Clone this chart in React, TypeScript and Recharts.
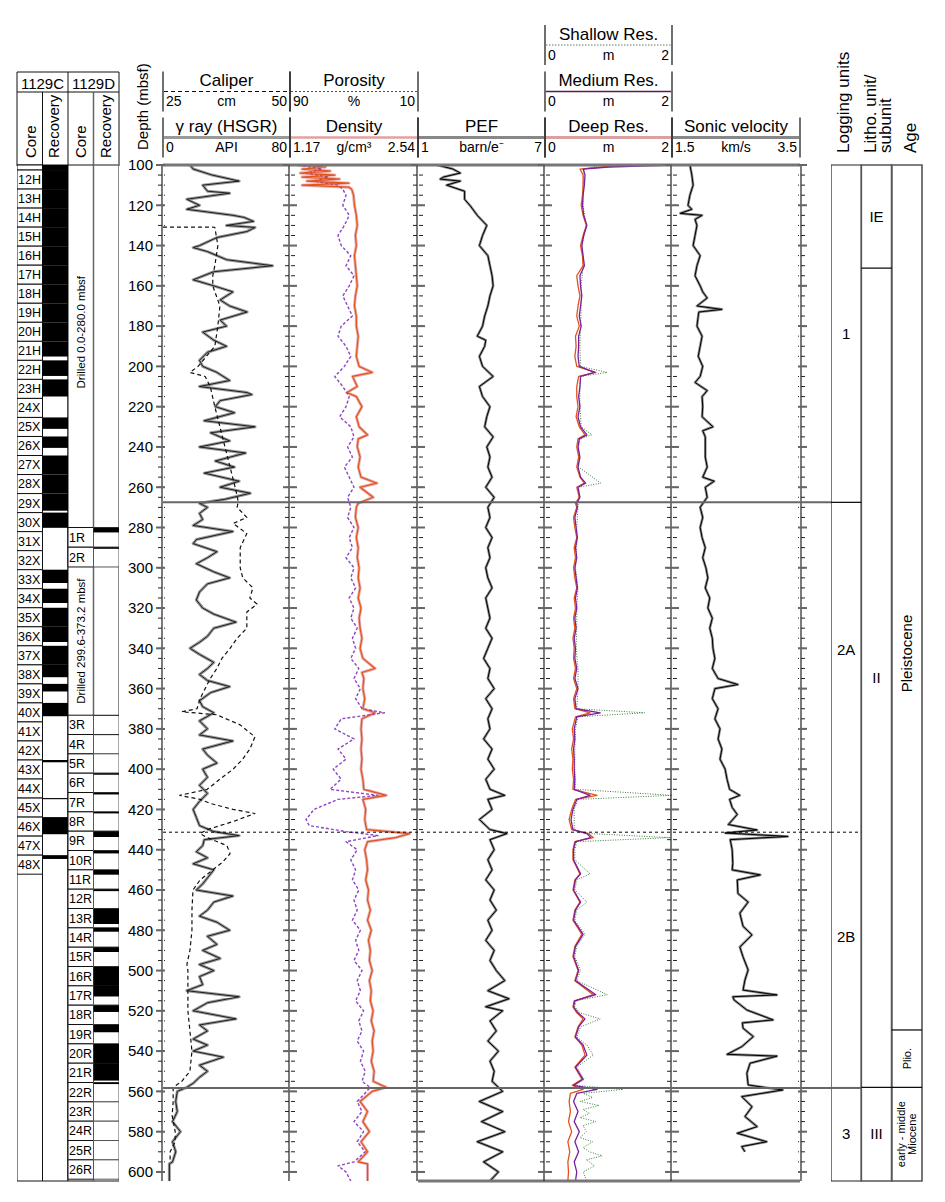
import React from 'react';
import { LineChart, Line, XAxis, YAxis, ComposedChart, ReferenceArea, ReferenceLine } from 'recharts';

const TOP_DEPTH = 100;
const BASE_DEPTH = 604.5;
const PLOT_TOP = 165;
const PLOT_H = 1016;
const VPAD = 10;
const FONT = '"Liberation Sans", Arial, Helvetica, sans-serif';
const Y_DOMAIN: [number, number] = [TOP_DEPTH, BASE_DEPTH];

const depthLabels = [100, 120, 140, 160, 180, 200, 220, 240, 260, 280, 300, 320, 340, 360, 380, 400, 420, 440, 460, 480, 500, 520, 540, 560, 580, 600];
const depthMinor = Array.from({ length: 101 }, (_, i) => 100 + i * 5);

// [depth mbsf, value]
const gammaRay: [number, number][] = [
  [100, 17], [102, 19], [105, 31], [108, 48], [110, 25], [113, 28], [114, 42], [117, 15], [120, 23], [122, 15], [125, 44], [126, 51], [128, 57], [130, 40], [131, 58], [133, 53], [136, 34], [140, 23], [141, 19], [143, 28], [147, 40], [150, 69], [153, 32], [157, 19], [160, 32], [163, 44], [167, 36], [170, 42], [173, 53], [177, 36], [180, 40], [183, 25], [187, 32], [190, 40], [193, 28], [197, 23], [200, 25], [203, 34], [207, 42], [210, 23], [213, 53], [214, 56], [217, 36], [220, 33], [223, 45], [227, 26], [230, 58], [233, 30], [237, 42], [240, 23], [243, 52], [247, 33], [250, 45], [253, 26], [257, 48], [260, 36], [263, 55], [266, 39], [268, 23],
  [270, 28], [273, 23], [276, 25], [279, 19], [282, 44], [286, 21], [288, 19], [292, 34], [295, 28], [298, 21], [302, 32], [305, 42], [308, 28], [312, 23], [316, 21], [320, 25], [323, 32], [327, 46], [330, 32], [334, 28], [337, 23], [340, 17], [343, 23], [347, 32], [350, 28], [353, 23], [356, 28], [359, 42], [362, 30], [366, 23], [369, 25], [372, 32], [376, 23], [380, 28], [383, 23], [386, 44], [390, 25], [393, 28], [397, 34], [400, 25], [404, 28], [408, 23], [412, 28], [416, 23], [420, 19], [424, 21], [428, 23], [431, 32], [433, 48], [435, 26], [438, 25], [441, 21], [444, 28], [447, 19], [450, 32], [454, 28], [457, 25], [460, 21], [463, 44], [466, 32], [470, 28], [473, 23], [476, 34], [480, 42], [483, 28], [487, 34], [490, 25], [494, 36], [497, 23], [500, 32], [503, 23], [507, 25], [510, 15], [513, 48], [516, 28], [520, 19], [524, 46], [527, 23], [530, 28], [534, 19], [537, 28], [540, 19], [543, 38], [547, 23], [550, 28], [553, 23], [556, 19], [558, 15], [560, 9], [565, 8], [570, 9], [575, 6], [580, 11], [585, 6], [590, 8], [595, 6], [596, 4], [604.5, 4],
];

const caliper: [number, number][] = [
  [130.8, 25], [130.9, 35.2], [140, 35.8], [150, 35.2], [155, 34.8], [160, 34.8], [170, 36.2], [180, 35.8], [190, 35.2], [200, 31.9], [203, 30.3], [205, 33.3], [210, 34.3], [220, 35.2], [230, 36.2], [240, 37.2], [250, 38.2], [260, 39.2], [267, 39.8], [270, 39.6], [275, 41.5], [278, 38.8], [283, 41.5], [290, 40.2], [300, 40.2], [305, 40.7], [310, 42.7], [315, 42.1], [318, 43.5], [322, 41.5], [330, 41.5], [335, 39.6], [340, 38.2], [345, 36.6], [350, 35.6], [355, 34.3], [360, 33.3], [365, 32.3], [370, 31.7], [371.5, 28.7], [373, 35.6], [378, 40.2], [384, 43.1], [390, 42.1], [395, 40.7], [400, 38.8], [405, 36.2], [410, 33.7], [413, 28.3], [415, 32.3], [417, 34.3], [420, 38.8], [422, 43.1], [426, 38.8], [430, 33.7], [432, 32.3], [434, 33.7], [438, 37.6], [442, 38.2], [446, 36.8], [450, 34.8], [455, 32.3], [460, 30.9], [470, 30.7], [480, 30.7], [490, 30.3], [497, 29.7], [500, 29.9], [510, 29.9], [520, 29.9], [530, 30.3], [540, 30.7], [550, 30.3], [555, 28.7], [558, 27.0], [565, 27.0], [572, 26.8], [580, 27.4], [585, 27.4], [590, 26.4], [595, 26.4],
];

const density: [number, number][] = [
  [100, 1.25], [101, 1.55], [102, 1.3], [103, 1.6], [104, 1.28], [105, 1.65], [106, 1.3], [107, 1.7], [108, 1.35], [109, 1.8], [110, 1.3], [111, 1.8], [112, 1.83], [115, 1.85], [120, 1.86], [125, 1.88], [130, 1.89], [135, 1.87], [140, 1.88], [145, 1.86], [150, 1.87], [155, 1.88], [160, 1.89], [165, 1.87], [170, 1.86], [175, 1.88], [180, 1.88], [185, 1.9], [190, 1.89], [195, 1.88], [200, 1.91], [203, 2.05], [205, 1.84], [210, 1.89], [213, 1.78], [215, 1.88], [220, 1.94], [225, 1.88], [230, 1.91], [234, 2.0], [236, 1.9], [240, 1.89], [245, 1.92], [250, 1.9], [255, 1.93], [258, 2.1], [260, 1.92], [265, 2.06], [268, 1.9],
  [270, 1.88], [275, 1.87], [280, 1.9], [285, 1.88], [290, 1.9], [295, 1.89], [300, 1.91], [305, 1.9], [310, 1.92], [315, 1.9], [320, 1.93], [325, 1.91], [330, 1.92], [335, 1.94], [340, 1.92], [345, 1.95], [350, 2.08], [352, 1.94], [355, 1.96], [360, 1.95], [365, 1.97], [370, 1.95], [372, 2.08], [375, 1.94], [380, 1.93], [385, 1.94], [390, 1.93], [395, 1.94], [400, 1.93], [405, 1.95], [410, 1.96], [413, 2.2], [415, 1.95], [420, 1.98], [425, 1.97], [430, 1.99], [432, 2.45], [434, 2.3], [436, 2.0], [440, 1.97], [445, 1.99], [450, 2.0], [455, 1.98], [460, 2.01], [465, 2.0], [470, 2.03], [475, 2.0], [480, 2.04], [485, 2.01], [490, 2.03], [495, 2.02], [500, 2.05], [505, 2.02], [510, 2.04], [515, 2.03], [520, 2.06], [525, 2.04], [530, 2.07], [535, 2.05], [540, 2.06], [545, 2.04], [550, 2.07], [555, 2.06], [558, 2.2], [560, 2.05], [565, 1.92], [570, 2.0], [575, 1.95], [580, 2.02], [585, 1.93], [590, 2.0], [595, 1.9], [596, 2.0], [604.5, 2.0],
];

const porosity: [number, number][] = [
  [100, 85], [102, 70], [104, 80], [106, 66], [108, 75], [110, 60], [112, 57], [115, 55], [120, 57], [125, 53], [130, 56], [135, 60], [140, 58], [145, 52], [150, 55], [155, 50], [160, 53], [165, 57], [170, 54], [175, 51], [180, 58], [185, 60], [190, 55], [195, 52], [200, 56], [205, 62], [210, 57], [215, 53], [220, 55], [225, 59], [230, 52], [235, 50], [240, 54], [245, 51], [250, 56], [255, 53], [260, 50], [265, 54],
  [270, 52], [275, 54], [280, 50], [285, 53], [290, 51], [295, 55], [300, 50], [305, 52], [310, 49], [315, 53], [320, 50], [325, 52], [330, 48], [335, 51], [340, 49], [345, 52], [350, 47], [355, 50], [360, 46], [365, 49], [370, 45], [372, 31], [375, 58], [380, 62], [385, 50], [390, 60], [395, 55], [400, 63], [405, 58], [410, 65], [413, 35], [415, 60], [420, 75], [425, 80], [428, 78], [431, 55], [433, 35], [436, 55], [440, 48], [445, 52], [450, 49], [455, 51], [460, 47], [465, 50], [470, 48], [475, 51], [480, 46], [485, 49], [490, 47], [495, 50], [500, 45], [505, 48], [510, 46], [515, 49], [520, 44], [525, 47], [530, 45], [535, 48], [540, 44], [545, 46], [550, 43], [555, 45], [558, 40], [560, 42], [565, 48], [570, 45], [575, 50], [580, 44], [585, 48], [590, 43], [595, 50], [597, 60], [600, 55], [604.5, 52],
];

const pefLog: [number, number][] = [
  [100, 1.9], [102, 2.65], [104, 3.0], [106, 2.2], [107, 2.05], [108, 3.0], [110, 2.35], [113, 3.2], [117, 3.2], [120, 3.45], [125, 3.8], [130, 4.25], [135, 4.05], [140, 3.9], [145, 4.3], [150, 4.4], [155, 4.5], [160, 4.55], [165, 4.4], [170, 4.3], [175, 4.15], [180, 4.05], [185, 3.8], [187, 4.2], [190, 4.15], [195, 3.9], [200, 4.05], [205, 4.55], [210, 3.9], [215, 4.05], [220, 4.4], [225, 4.25], [230, 4.15], [235, 4.55], [240, 4.25], [245, 4.4], [250, 4.3], [255, 4.5], [260, 4.2], [265, 4.6],
  [270, 4.3], [275, 4.4], [280, 4.2], [285, 4.5], [290, 4.3], [295, 4.4], [300, 4.2], [305, 4.3], [310, 4.5], [315, 4.2], [320, 4.3], [325, 4.4], [330, 4.2], [335, 4.5], [340, 4.3], [345, 4.1], [350, 4.4], [355, 4.3], [360, 4.6], [365, 4.2], [370, 4.5], [375, 4.3], [380, 4.4], [385, 4.1], [390, 4.5], [395, 4.3], [400, 4.6], [405, 4.2], [410, 4.4], [413, 5.1], [415, 4.3], [420, 4.5], [425, 3.9], [430, 4.4], [432, 5.2], [435, 4.4], [440, 4.6], [445, 4.3], [450, 4.5], [455, 4.2], [460, 4.6], [465, 4.4], [470, 4.7], [475, 4.3], [480, 4.5], [485, 4.2], [490, 4.6], [495, 4.4], [500, 4.7], [505, 5.1], [510, 4.3], [514, 5.3], [518, 4.2], [520, 5.0], [525, 4.4], [530, 4.7], [535, 4.3], [540, 4.8], [545, 4.4], [550, 4.6], [555, 4.5], [560, 5.0], [565, 3.9], [570, 5.0], [575, 4.0], [580, 5.1], [585, 3.8], [590, 5.0], [595, 4.1], [600, 4.8], [604.5, 4.4],
];

const resDeep: [number, number][] = [
  [100, 1.3], [101, 0.9], [102, 0.55], [105, 0.6], [110, 0.6], [115, 0.59], [120, 0.57], [125, 0.6], [130, 0.65], [135, 0.6], [140, 0.56], [145, 0.59], [150, 0.6], [155, 0.5], [160, 0.52], [165, 0.55], [170, 0.52], [175, 0.5], [180, 0.54], [185, 0.48], [190, 0.49], [195, 0.47], [200, 0.5], [203, 0.8], [205, 0.53], [210, 0.5], [215, 0.5], [220, 0.52], [225, 0.49], [230, 0.54], [234, 0.63], [236, 0.52], [240, 0.5], [245, 0.53], [250, 0.5], [255, 0.55], [258, 0.62], [260, 0.5], [265, 0.54], [268, 0.48],
  [270, 0.5], [275, 0.45], [280, 0.47], [285, 0.5], [290, 0.46], [295, 0.48], [300, 0.45], [305, 0.47], [310, 0.5], [315, 0.46], [320, 0.48], [325, 0.45], [330, 0.47], [335, 0.44], [340, 0.46], [345, 0.45], [350, 0.48], [355, 0.45], [360, 0.5], [365, 0.45], [370, 0.47], [372, 0.71], [374, 0.48], [380, 0.43], [385, 0.45], [390, 0.42], [395, 0.44], [400, 0.43], [405, 0.45], [410, 0.44], [413, 0.82], [415, 0.48], [420, 0.42], [425, 0.38], [430, 0.42], [432, 0.68], [434, 0.76], [436, 0.47], [440, 0.44], [445, 0.44], [452, 0.55], [455, 0.47], [460, 0.44], [466, 0.55], [470, 0.47], [475, 0.44], [482, 0.58], [488, 0.47], [493, 0.44], [500, 0.52], [505, 0.47], [512, 0.76], [515, 0.46], [518, 0.44], [521, 0.5], [524, 0.6], [528, 0.52], [533, 0.47], [537, 0.58], [542, 0.63], [548, 0.47], [554, 0.58], [557, 0.43], [559, 0.6], [561, 0.4], [565, 0.38], [570, 0.4], [575, 0.37], [580, 0.42], [585, 0.36], [590, 0.39], [595, 0.36], [600, 0.37], [604.5, 0.36],
];

const resMedium: [number, number][] = [
  [100, 2.0], [101, 1.0], [102, 0.6], [105, 0.63], [110, 0.62], [115, 0.6], [120, 0.59], [125, 0.61], [130, 0.66], [135, 0.61], [140, 0.58], [145, 0.6], [150, 0.62], [155, 0.55], [160, 0.56], [165, 0.58], [170, 0.56], [175, 0.54], [180, 0.57], [185, 0.53], [190, 0.53], [195, 0.52], [200, 0.54], [203, 0.78], [205, 0.56], [210, 0.55], [215, 0.53], [220, 0.55], [225, 0.52], [230, 0.56], [234, 0.66], [236, 0.54], [240, 0.52], [245, 0.55], [250, 0.52], [255, 0.56], [258, 0.64], [260, 0.52], [265, 0.55], [268, 0.5],
  [270, 0.51], [275, 0.47], [280, 0.49], [285, 0.51], [290, 0.48], [295, 0.5], [300, 0.47], [305, 0.49], [310, 0.51], [315, 0.48], [320, 0.5], [325, 0.47], [330, 0.49], [335, 0.46], [340, 0.48], [345, 0.47], [350, 0.5], [355, 0.47], [360, 0.52], [365, 0.47], [370, 0.49], [372, 0.87], [374, 0.5], [380, 0.46], [385, 0.47], [390, 0.45], [395, 0.46], [400, 0.46], [405, 0.47], [410, 0.46], [413, 0.71], [415, 0.5], [420, 0.44], [425, 0.41], [430, 0.44], [432, 0.66], [434, 0.72], [436, 0.48], [440, 0.45], [445, 0.45], [452, 0.56], [455, 0.48], [460, 0.45], [466, 0.56], [470, 0.48], [475, 0.45], [482, 0.6], [488, 0.48], [493, 0.45], [500, 0.53], [505, 0.48], [512, 0.8], [515, 0.47], [518, 0.45], [521, 0.52], [524, 0.63], [528, 0.53], [533, 0.48], [537, 0.6], [542, 0.66], [548, 0.48], [554, 0.6], [557, 0.45], [559, 0.82], [561, 0.5], [565, 0.45], [570, 0.52], [575, 0.46], [580, 0.54], [585, 0.47], [590, 0.53], [595, 0.46], [600, 0.5], [604.5, 0.48],
];

const resShallow: [number, number][] = [
  [100, 0.9], [102, 0.62], [110, 0.6], [120, 0.6], [130, 0.65], [140, 0.58], [150, 0.6], [160, 0.57], [170, 0.57], [180, 0.56], [190, 0.55], [200, 0.56], [203, 0.98], [205, 0.56], [210, 0.55], [220, 0.55], [230, 0.57], [234, 0.74], [236, 0.55], [240, 0.53], [250, 0.53], [258, 0.88], [260, 0.53], [270, 0.52], [280, 0.5], [290, 0.5], [300, 0.48], [310, 0.52], [320, 0.5], [330, 0.5], [340, 0.49], [350, 0.52], [360, 0.52], [370, 0.5], [372, 1.57], [374, 0.52], [380, 0.48], [390, 0.47], [400, 0.47], [410, 0.48], [413, 2.0], [415, 0.52], [420, 0.46], [430, 0.46], [432, 0.7], [434, 1.97], [436, 0.5], [440, 0.47], [445, 0.47], [452, 0.71], [455, 0.5], [460, 0.47], [466, 0.66], [470, 0.5], [475, 0.47], [482, 0.63], [488, 0.5], [493, 0.47], [500, 0.56], [505, 0.5], [512, 0.98], [515, 0.49], [518, 0.47], [521, 0.55], [524, 0.87], [528, 0.56], [533, 0.5], [537, 0.66], [542, 0.76], [548, 0.5], [554, 0.62], [557, 0.47], [559, 1.23], [561, 0.6], [563, 0.75], [565, 0.55], [567, 0.85], [569, 0.6], [571, 0.7], [573, 0.55], [575, 0.8], [577, 0.6], [580, 0.65], [583, 0.55], [585, 0.75], [588, 0.6], [590, 0.7], [592, 0.9], [594, 0.65], [597, 0.78], [600, 0.6], [604.5, 0.66],
];

const sonic: [number, number][] = [
  [100, 1.78], [105, 1.81], [110, 1.83], [115, 1.78], [120, 1.75], [122, 1.81], [124, 1.63], [125, 1.97], [127, 1.86], [130, 1.89], [135, 1.86], [140, 1.83], [145, 1.94], [150, 1.89], [155, 1.86], [160, 1.94], [163, 1.98], [166, 2.05], [170, 1.89], [171.7, 2.28], [173, 1.92], [175, 1.91], [180, 1.89], [185, 1.97], [190, 1.94], [195, 1.91], [200, 1.98], [205, 1.94], [208, 1.86], [212, 2.05], [215, 1.97], [220, 1.98], [225, 1.97], [230, 2.14], [232, 1.98], [235, 2.02], [240, 2.02], [245, 2.02], [250, 2.05], [255, 1.98], [257, 2.16], [260, 2.02], [265, 2.05],
  [270, 1.94], [275, 1.98], [280, 1.94], [285, 1.97], [290, 2.02], [295, 1.98], [300, 2.03], [305, 2.06], [310, 2.02], [315, 2.09], [320, 2.06], [325, 2.13], [330, 2.09], [335, 2.13], [340, 2.14], [345, 2.17], [350, 2.13], [355, 2.22], [358, 2.53], [360, 2.17], [365, 2.13], [370, 2.22], [375, 2.17], [380, 2.25], [385, 2.22], [390, 2.28], [395, 2.25], [400, 2.33], [405, 2.36], [410, 2.4], [413, 2.56], [415, 2.4], [419, 2.44], [422.5, 2.52], [427.5, 2.38], [430.2, 2.83], [431.7, 2.33], [433.4, 3.31], [435, 2.41], [440, 2.44], [446.8, 2.45], [450, 2.44], [452.5, 2.88], [455, 2.52], [461.7, 2.53], [466, 2.69], [471.5, 2.56], [478, 2.61], [482.3, 2.75], [488.3, 2.56], [493.2, 2.61], [499.7, 2.69], [504.7, 2.64], [509.7, 2.61], [512.1, 3.14], [513, 2.45], [514.6, 2.47], [519.6, 2.67], [524.5, 3.08], [526, 2.6], [528.6, 2.61], [532.8, 2.77], [537.8, 2.59], [541.6, 2.36], [542.5, 3.14], [546, 2.72], [551, 2.67], [556.8, 2.69], [559.3, 3.23], [562.6, 2.59], [567.6, 2.75], [572.5, 2.64], [577.5, 2.83], [580.8, 2.52], [585, 2.98], [587.4, 2.59], [590, 2.64],
];

// Hole 1129C cores: name, top depth, recovered fraction
const holeCCores = ['11H', '12H', '13H', '14H', '15H', '16H', '17H', '18H', '19H', '20H', '21H', '22H', '23H', '24X', '25X', '26X', '27X', '28X', '29X', '30X', '31X', '32X', '33X', '34X', '35X', '36X', '37X', '38X', '39X', '40X', '41X', '42X', '43X', '44X', '45X', '46X', '47X', '48X'];
const holeCTops = [100, 102.5, 111.95, 121.4, 130.85, 140.3, 149.75, 159.2, 168.65, 178.1, 187.55, 197.0, 206.45, 215.9, 225.35, 234.8, 244.25, 253.7, 263.15, 272.6, 282.05, 291.5, 300.95, 310.4, 319.85, 329.3, 338.75, 348.2, 357.65, 367.1, 376.55, 386.0, 395.45, 404.9, 414.35, 423.8, 433.25, 442.7];
const holeCBase = 452.15;
const holeCRecovery = [1, 1, 1, 1, 1, 1, 1, 1, 1, 1, 0.8, 0.82, 0.9, 0, 0.6, 0.6, 1, 1, 0.9, 0.8, 0, 0, 0.7, 0.75, 1, 0.8, 1, 0.65, 0.4, 0.7, 0, 0, 0.12, 0, 0.06, 0.9, 0, 0.2];

// Hole 1129D cores
const holeDCores = ['1R', '2R', '3R', '4R', '5R', '6R', '7R', '8R', '9R', '10R', '11R', '12R', '13R', '14R', '15R', '16R', '17R', '18R', '19R', '20R', '21R', '22R', '23R', '24R', '25R', '26R'];
const holeDTops = [280.0, 289.8, 373.2, 382.8, 392.4, 402.0, 411.6, 421.2, 430.8, 440.4, 450.0, 459.6, 469.2, 478.8, 488.4, 498.0, 507.6, 517.2, 526.8, 536.4, 546.0, 555.6, 565.2, 574.8, 584.4, 594.0];
const holeDBases = [289.8, 299.6, 382.8, 392.4, 402.0, 411.6, 421.2, 430.8, 440.4, 450.0, 459.6, 469.2, 478.8, 488.4, 498.0, 507.6, 517.2, 526.8, 536.4, 546.0, 555.6, 565.2, 574.8, 584.4, 594.0, 603.6];
const holeDRecovery = [0.25, 0.08, 0.03, 0.03, 0, 0.08, 0.1, 0.08, 0.3, 0.15, 0.25, 0.1, 0.8, 0.2, 0.25, 1, 0.55, 0.35, 0.4, 1, 0.9, 0.08, 0, 0, 0, 0];
const drilledIntervals = [
  { top: 100, base: 280.0, text: 'Drilled 0.0-280.0 mbsf' },
  { top: 299.6, base: 373.2, text: 'Drilled 299.6-373.2 mbsf' },
];

// unit boundaries across the log tracks
const unitBoundaries = [
  { depth: 267.5, kind: 'solid' },
  { depth: 431.3, kind: 'dashed' },
  { depth: 558.3, kind: 'solid' },
];

const loggingUnits = [
  { label: '1', top: 100, base: 267.5 },
  { label: '2A', top: 267.5, base: 431.3 },
  { label: '2B', top: 431.3, base: 558.3 },
  { label: '3', top: 558.3, base: 604.5 },
];
const lithoUnits = [
  { label: 'IE', top: 100, base: 151.2 },
  { label: 'II', top: 151.2, base: 558 },
  { label: 'III', top: 558, base: 604.5 },
];
const ageUnits = [
  { lines: ['Pleistocene'], top: 100, base: 529.5, size: 15 },
  { lines: ['Plio.'], top: 529.5, base: 558, size: 11 },
  { lines: ['early - middle', 'Miocene'], top: 558, base: 604.5, size: 11 },
];
const columnBoundaries = [
  { col: 0, depth: 267.5, dash: undefined as string | undefined, stroke: '#000', w: 1.2 },
  { col: 0, depth: 431.3, dash: '3 3', stroke: '#000', w: 1 },
  { col: 0, depth: 558.3, dash: undefined, stroke: '#666', w: 2 },
  { col: 1, depth: 151.2, dash: undefined, stroke: '#000', w: 1.2 },
  { col: 1, depth: 558, dash: undefined, stroke: '#000', w: 1.2 },
  { col: 2, depth: 529.5, dash: undefined, stroke: '#000', w: 1.2 },
  { col: 2, depth: 558, dash: undefined, stroke: '#000', w: 1.2 },
];

// label nudges (pixels) where the original text sits off-centre in its box
const labelNudge: Record<string, number> = { '2A': -17, '2B': -23, Pleistocene: 56, 'Drilled 0.0-280.0 mbsf': -14 };

const frameRows = [{ depth: TOP_DEPTH }, { depth: BASE_DEPTH }];
const rows = (pts: [number, number][]) => pts.map(([depth, v]) => ({ depth, v }));

const NoTick = () => <g />;

// two outward-pointing tick axes (5 m minor, 20 m major) on one edge of a track
function edgeAxes(side: 'left' | 'right', labelled: boolean, withLine: boolean) {
  const common = {
    type: 'number' as const,
    dataKey: 'depth',
    domain: Y_DOMAIN,
    allowDataOverflow: true,
    orientation: side,
    width: 1,
    interval: 0 as const,
  };
  return [
    <YAxis key={`${side}-minor`} yAxisId={`${side}-minor`} {...common} ticks={depthMinor} tickSize={4} tick={NoTick}
      tickLine={{ stroke: '#222', strokeWidth: 1 }} axisLine={withLine ? { stroke: '#222', strokeWidth: 1.2 } : false} />,
    <YAxis key={`${side}-major`} yAxisId={`${side}-major`} {...common} ticks={depthLabels} tickSize={7} tickMargin={3}
      tick={labelled ? { fontSize: 15, fill: '#000' } : NoTick} tickLine={{ stroke: '#666', strokeWidth: 2 }} axisLine={false} />,
  ];
}

type Scale = { id: string; domain: [number, number]; reversed?: boolean };
type Curve = { pts: [number, number][]; axis: string; stroke: string; width: number; dash?: string };

function Track({ x0, x1, scales, curves, labelled = false, rightLine = false }: {
  x0: number; x1: number; scales: Scale[]; curves: Curve[]; labelled?: boolean; rightLine?: boolean;
}) {
  const padL = labelled ? 50 : 10;
  const padR = 10;
  return (
    <div style={{ position: 'absolute', left: x0 - padL, top: PLOT_TOP - VPAD }}>
      <LineChart layout="vertical" width={x1 - x0 + padL + padR} height={PLOT_H + 2 * VPAD}
        margin={{ top: VPAD - 1, bottom: VPAD - 1, left: padL - 2, right: padR - 2 }}>
        {scales.map((s) => (
          <XAxis key={s.id} xAxisId={s.id} type="number" domain={s.domain} reversed={s.reversed} allowDataOverflow hide />
        ))}
        <XAxis xAxisId="frameTop" type="number" domain={[0, 1]} allowDataOverflow orientation="top" height={1} tick={false}
          tickLine={false} axisLine={{ stroke: '#777', strokeWidth: 3 }} />
        <XAxis xAxisId="frameBottom" type="number" domain={[0, 1]} allowDataOverflow orientation="bottom" height={1} tick={false}
          tickLine={false} axisLine={{ stroke: '#777', strokeWidth: 3 }} />
        {edgeAxes('left', labelled, true)}
        {edgeAxes('right', false, rightLine)}
        {curves.map((c, i) => (
          <Line key={i} data={rows(c.pts)} dataKey="v" xAxisId={c.axis} yAxisId="left-minor" type="linear"
            stroke={c.stroke} strokeWidth={c.width} strokeDasharray={c.dash} dot={false} activeDot={false}
            isAnimationActive={false} strokeLinejoin="round" />
        ))}
      </LineChart>
    </div>
  );
}

// ticks pointing into the log panel from its outer left (163) and right (800) edges
function EdgeTicks({ x, side }: { x: number; side: 'left' | 'right' }) {
  const pad = 10;
  return (
    <div style={{ position: 'absolute', left: side === 'right' ? x - pad : x - 2, top: PLOT_TOP - VPAD, pointerEvents: 'none' }}>
      <ComposedChart layout="vertical" width={pad + 2} height={PLOT_H + 2 * VPAD} data={frameRows}
        margin={{ top: VPAD, bottom: VPAD, left: side === 'left' ? 0 : 0, right: side === 'right' ? 0 : 0 }}>
        <XAxis type="number" domain={[0, 1]} allowDataOverflow hide />
        {edgeAxes(side, false, false)}
      </ComposedChart>
    </div>
  );
}

const RotLabel = (props: any) => {
  const { viewBox, lines, size = 12 } = props;
  if (!viewBox) return null;
  const cx = viewBox.x + viewBox.width / 2;
  const cy = viewBox.y + viewBox.height / 2 + (labelNudge[lines[0]] || 0);
  const first = -((lines.length - 1) / 2) * size * 1.05 + size * 0.35;
  return (
    <text transform={`rotate(-90 ${cx} ${cy})`} x={cx} y={cy} textAnchor="middle" fontSize={size} fill="#000">
      {lines.map((l: string, i: number) => (
        <tspan key={i} x={cx} dy={i === 0 ? first : size * 1.05}>{l}</tspan>
      ))}
    </text>
  );
};

const CenterLabel = (props: any) => {
  const { viewBox, text } = props;
  if (!viewBox) return null;
  const cx = viewBox.x + viewBox.width / 2;
  const cy = viewBox.y + viewBox.height / 2 + (labelNudge[text] || 0);
  return <text x={cx} y={cy + 5} textAnchor="middle" fontSize={15} fill="#000">{text}</text>;
};

function CoreColumns() {
  return (
    <div style={{ position: 'absolute', left: 17, top: PLOT_TOP - 2 }}>
      <ComposedChart layout="vertical" width={102} height={PLOT_H + 4} margin={{ top: 2, right: 0, bottom: 2, left: 0 }} data={frameRows}>
        <XAxis type="number" domain={[0, 4]} allowDataOverflow hide />
        <YAxis type="number" dataKey="depth" domain={Y_DOMAIN} allowDataOverflow hide />
        {[0, 1, 2, 3].map((c) => (
          <ReferenceArea key={`f${c}`} x1={c} x2={c + 1} y1={TOP_DEPTH} y2={BASE_DEPTH} fill="#fff" fillOpacity={1}
            stroke={c === 3 ? '#666' : '#111'} strokeWidth={c === 3 ? 1.5 : 1} ifOverflow="visible" />
        ))}
        {holeCCores.map((name, i) => {
          const top = holeCTops[i];
          const base = i + 1 < holeCTops.length ? holeCTops[i + 1] : holeCBase;
          return (
            <ReferenceArea key={`c${name}`} x1={0} x2={1} y1={top} y2={base} fill="#fff" fillOpacity={1} stroke="#111"
              strokeWidth={1} ifOverflow="visible"
              label={i === 0 ? undefined : { value: name, position: 'insideLeft', offset: 1, fontSize: 12.5, fill: '#000' }} />
          );
        })}
        {holeCCores.map((name, i) => {
          const top = holeCTops[i];
          const base = i + 1 < holeCTops.length ? holeCTops[i + 1] : holeCBase;
          const frac = holeCRecovery[i];
          if (frac <= 0) return null;
          return (
            <ReferenceArea key={`cr${name}`} x1={1} x2={2} y1={top} y2={top + (base - top) * frac} fill="#000"
              fillOpacity={1} stroke="none" ifOverflow="visible" />
          );
        })}
        {drilledIntervals.map((d) => (
          <ReferenceArea key={d.text} x1={2} x2={3} y1={d.top} y2={d.base} fill="none" stroke="none" ifOverflow="visible"
            label={<RotLabel lines={[d.text]} size={11.5} />} />
        ))}
        {holeDCores.map((name, i) => (
          <ReferenceArea key={`d${name}`} x1={2} x2={3} y1={holeDTops[i]} y2={holeDBases[i]} fill="#fff" fillOpacity={1}
            stroke="#111" strokeWidth={1} ifOverflow="visible"
            label={{ value: name, position: 'insideLeft', offset: 1, fontSize: 12.5, fill: '#000' }} />
        ))}
        {holeDCores.map((name, i) => (
          <ReferenceArea key={`do${name}`} x1={3} x2={4} y1={holeDTops[i]} y2={holeDBases[i]} fill="#fff" fillOpacity={1}
            stroke="#555" strokeWidth={1} ifOverflow="visible" />
        ))}
        {holeDCores.map((name, i) => {
          const frac = holeDRecovery[i];
          if (frac <= 0) return null;
          const top = holeDTops[i];
          return (
            <ReferenceArea key={`dr${name}`} x1={3} x2={4} y1={top} y2={top + (holeDBases[i] - top) * frac} fill="#000"
              fillOpacity={1} stroke="none" ifOverflow="visible" />
          );
        })}
      </ComposedChart>
    </div>
  );
}

function UnitColumns() {
  return (
    <div style={{ position: 'absolute', left: 831, top: PLOT_TOP - 2 }}>
      <ComposedChart layout="vertical" width={92} height={PLOT_H + 4} margin={{ top: 2, right: 1, bottom: 2, left: 0 }} data={frameRows}>
        <XAxis type="number" domain={[0, 3]} allowDataOverflow hide />
        <YAxis type="number" dataKey="depth" domain={Y_DOMAIN} allowDataOverflow hide />
        {[0, 1, 2].map((c) => (
          <ReferenceArea key={`f${c}`} x1={c} x2={c + 1} y1={TOP_DEPTH} y2={BASE_DEPTH} fill="none"
            stroke={c === 0 ? '#222' : '#555'} strokeWidth={c === 0 ? 1.2 : 1.6} ifOverflow="visible" />
        ))}
        {loggingUnits.map((u) => (
          <ReferenceArea key={`l${u.label}`} x1={0} x2={1} y1={u.top} y2={u.base} fill="none" stroke="none" ifOverflow="visible"
            label={<CenterLabel text={u.label} />} />
        ))}
        {lithoUnits.map((u) => (
          <ReferenceArea key={`t${u.label}`} x1={1} x2={2} y1={u.top} y2={u.base} fill="none" stroke="none" ifOverflow="visible"
            label={<CenterLabel text={u.label} />} />
        ))}
        {ageUnits.map((u) => (
          <ReferenceArea key={`a${u.lines[0]}`} x1={2} x2={3} y1={u.top} y2={u.base} fill="none" stroke="none" ifOverflow="visible"
            label={<RotLabel lines={u.lines} size={u.size} />} />
        ))}
        {columnBoundaries.map((b, i) => (
          <ReferenceLine key={`b${i}`} segment={[{ x: b.col, y: b.depth }, { x: b.col + 1, y: b.depth }]} stroke={b.stroke}
            strokeWidth={b.w} strokeDasharray={b.dash} ifOverflow="visible" />
        ))}
      </ComposedChart>
    </div>
  );
}

function BoundaryOverlay() {
  return (
    <div style={{ position: 'absolute', left: 163, top: PLOT_TOP - 2, pointerEvents: 'none' }}>
      <ComposedChart layout="vertical" width={668} height={PLOT_H + 4} margin={{ top: 2, right: 0, bottom: 2, left: 0 }} data={frameRows}>
        <XAxis type="number" domain={[0, 1]} allowDataOverflow hide />
        <YAxis type="number" dataKey="depth" domain={Y_DOMAIN} allowDataOverflow hide />
        {unitBoundaries.map((b) => (
          <ReferenceLine key={b.depth} y={b.depth} stroke={b.kind === 'dashed' ? '#000' : '#666'}
            strokeWidth={b.kind === 'dashed' ? 1 : 2} strokeDasharray={b.kind === 'dashed' ? '3 3' : undefined} />
        ))}
      </ComposedChart>
    </div>
  );
}

function ScaleHeader({ x0, x1, lineY, title, min, unit, max, stroke, strokeWidth, dash }: {
  x0: number; x1: number; lineY: number; title: string; min: string; unit: string; max: string;
  stroke: string; strokeWidth: number; dash?: string;
}) {
  const cx = (x0 + x1) / 2;
  return (
    <g>
      <line x1={x0} x2={x0} y1={lineY - 20} y2={lineY + 20} stroke="#222" strokeWidth={1.3} />
      <line x1={x1} x2={x1} y1={lineY - 20} y2={lineY + 20} stroke="#222" strokeWidth={1.3} />
      <line x1={x0 + 1} x2={x1 - 1} y1={lineY} y2={lineY} stroke={stroke} strokeWidth={strokeWidth} strokeDasharray={dash} />
      <text x={cx} y={lineY - 5.5} fontSize={17} textAnchor="middle">{title}</text>
      <text x={x0 + 3} y={lineY + 14.5} fontSize={14}>{min}</text>
      <text x={cx} y={lineY + 14.5} fontSize={14} textAnchor="middle">{unit}</text>
      <text x={x1 - 3} y={lineY + 14.5} fontSize={14} textAnchor="end">{max}</text>
    </g>
  );
}

const RotText = ({ x, y, size, children }: { x: number; y: number; size: number; children: React.ReactNode }) => (
  <text transform={`translate(${x} ${y}) rotate(-90)`} fontSize={size}>{children}</text>
);

function Header() {
  return (
    <svg width={945} height={168} style={{ position: 'absolute', left: 0, top: 0 }}>
      <line x1={17} x2={119} y1={72} y2={72} stroke="#111" />
      <line x1={17} x2={119} y1={92} y2={92} stroke="#111" />
      {[17, 68, 119].map((x) => <line key={x} x1={x} x2={x} y1={72} y2={166} stroke="#111" />)}
      <line x1={42.5} x2={42.5} y1={92} y2={166} stroke="#111" />
      <line x1={93.5} x2={93.5} y1={92} y2={166} stroke="#666" strokeWidth={1.5} />
      <text x={42.5} y={88.5} fontSize={15} textAnchor="middle">1129C</text>
      <text x={93.5} y={88.5} fontSize={15} textAnchor="middle">1129D</text>
      <RotText x={36} y={158} size={15}>Core</RotText>
      <RotText x={59} y={158} size={15}>Recovery</RotText>
      <RotText x={86} y={158} size={15}>Core</RotText>
      <RotText x={111} y={158} size={15}>Recovery</RotText>
      <RotText x={148} y={150} size={15}>Depth (mbsf)</RotText>

      <ScaleHeader x0={545} x1={672} lineY={45} title="Shallow Res." min="0" unit="m" max="2" stroke="#5f7a5f" strokeWidth={1} dash="1.5 1.5" />
      <ScaleHeader x0={163} x1={290} lineY={91.5} title="Caliper" min="25" unit="cm" max="50" stroke="#111" strokeWidth={1} dash="4 3" />
      <ScaleHeader x0={290} x1={418} lineY={91.5} title="Porosity" min="90" unit="%" max="10" stroke="#7a2e9a" strokeWidth={1} dash="2 2" />
      <ScaleHeader x0={545} x1={672} lineY={91.5} title="Medium Res." min="0" unit="m" max="2" stroke="#5a1a5a" strokeWidth={1.5} />
      <ScaleHeader x0={163} x1={290} lineY={137.5} title="γ ray (HSGR)" min="0" unit="API" max="80" stroke="#999" strokeWidth={3} />
      <ScaleHeader x0={290} x1={418} lineY={137.5} title="Density" min="1.17" unit="g/cm³" max="2.54" stroke="#e2a2a2" strokeWidth={2.5} />
      <ScaleHeader x0={418} x1={545} lineY={137.5} title="PEF" min="1" unit="barn/e⁻" max="7" stroke="#888" strokeWidth={3} />
      <ScaleHeader x0={545} x1={672} lineY={137.5} title="Deep Res." min="0" unit="m" max="2" stroke="#dba0a0" strokeWidth={3} />
      <ScaleHeader x0={672} x1={800} lineY={137.5} title="Sonic velocity" min="1.5" unit="km/s" max="3.5" stroke="#888" strokeWidth={3} />

      <RotText x={849} y={153} size={17}>Logging units</RotText>
      <RotText x={876} y={153} size={17}>Litho. unit/</RotText>
      <RotText x={891} y={153} size={17}>subunit</RotText>
      <RotText x={916} y={153} size={17}>Age</RotText>
    </svg>
  );
}

export default function App() {
  return (
    <div style={{ position: 'absolute', left: 0, top: 0, width: 945, height: 1202, background: '#fff', fontFamily: FONT, color: '#000' }}>
      <Header />
      <CoreColumns />
      <Track x0={163} x1={290} labelled
        scales={[{ id: 'gr', domain: [0, 80] }, { id: 'cal', domain: [25, 50] }]}
        curves={[
          { pts: gammaRay, axis: 'gr', stroke: '#9a9a9a', width: 3 },
          { pts: gammaRay, axis: 'gr', stroke: '#111', width: 0.9 },
          { pts: caliper, axis: 'cal', stroke: '#111', width: 1.2, dash: '4 3' },
        ]} />
      <Track x0={290} x1={418}
        scales={[{ id: 'den', domain: [1.17, 2.54] }, { id: 'por', domain: [10, 90], reversed: true }]}
        curves={[
          { pts: density, axis: 'den', stroke: '#e6b0b0', width: 3 },
          { pts: porosity, axis: 'por', stroke: '#8e44c4', width: 1.4, dash: '3 2' },
          { pts: density, axis: 'den', stroke: '#e4521b', width: 1.2 },
        ]} />
      <Track x0={418} x1={545}
        scales={[{ id: 'pef', domain: [1, 7] }]}
        curves={[
          { pts: pefLog, axis: 'pef', stroke: '#8a8a8a', width: 2.6 },
          { pts: pefLog, axis: 'pef', stroke: '#000', width: 1 },
        ]} />
      <Track x0={545} x1={672}
        scales={[{ id: 'res', domain: [0, 2] }]}
        curves={[
          { pts: resShallow, axis: 'res', stroke: '#3f7f3f', width: 1, dash: '1 1.5' },
          { pts: resDeep, axis: 'res', stroke: '#e4521b', width: 1.3 },
          { pts: resMedium, axis: 'res', stroke: '#7a1f9e', width: 1.3 },
        ]} />
      <Track x0={672} x1={800} rightLine
        scales={[{ id: 'vp', domain: [1.5, 3.5] }]}
        curves={[
          { pts: sonic, axis: 'vp', stroke: '#8a8a8a', width: 2.6 },
          { pts: sonic, axis: 'vp', stroke: '#000', width: 1 },
        ]} />
      <EdgeTicks x={163} side="right" />
      <EdgeTicks x={800} side="left" />
      <BoundaryOverlay />
      <UnitColumns />
    </div>
  );
}
